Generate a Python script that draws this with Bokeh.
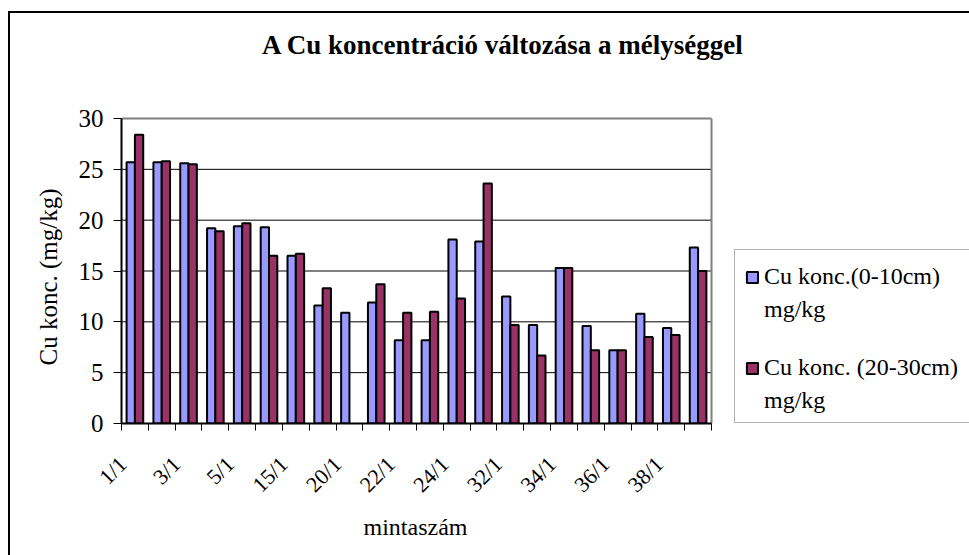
import numpy as np
from bokeh.plotting import figure
from bokeh.models import (FixedTicker, Legend, LegendItem, Range1d, Label, Title, BoxAnnotation,
                          ColumnDataSource)
from bokeh.embed import file_html
from bokeh.resources import INLINE

# ---- data ----
tick_labels = ["1/1", "3/1", "5/1", "15/1", "20/1", "22/1", "24/1", "32/1", "34/1", "36/1", "38/1"]
n_samples = 22
cu_0_10 = [25.7, 25.7, 25.6, 19.2, 19.4, 19.3, 16.5, 11.6, 10.9, 11.9, 8.2,
           8.2, 18.1, 17.9, 12.5, 9.7, 15.3, 9.6, 7.2, 10.8, 9.4, 17.3]
cu_20_30 = [28.4, 25.8, 25.5, 18.9, 19.7, 16.5, 16.7, 13.3, float("nan"), 13.7, 10.9,
            11.0, 12.3, 23.6, 9.7, 6.7, 15.3, 7.2, 7.2, 8.5, 8.7, 15.0]
y_ticks = [0, 5, 10, 15, 20, 25, 30]
series_names = ["Cu konc.(0-10cm)", "Cu konc. (20-30cm)"]
unit_text = "mg/kg"
title_text = "A Cu koncentráció változása  a mélységgel"
x_title = "mintaszám"
y_title = "Cu konc. (mg/kg)"

FONT = "Liberation Serif"
x = np.arange(1, n_samples + 1)

# ---- layout (pixels, figure coordinates) ----
W, H = 961, 544
FL, FB = 111, 410          # plot-area left edge and bottom edge
PLOT_W, PLOT_H = 590, 305  # size of the drawn plot area
x_lo, x_hi = 0.5, n_samples + 0.5
y_lo, y_hi = y_ticks[0], y_ticks[-1]
px_x = PLOT_W / (x_hi - x_lo)
px_y = PLOT_H / (y_hi - y_lo)
frame_w, frame_h = W - FL, FB


def dx(px):   # figure-pixel x -> data x
    return x_lo + (px - FL) / px_x


def dy(py):   # figure-pixel y -> data y
    return y_lo + (FB - py) / px_y


p = figure(width=W, height=H, output_backend="svg", toolbar_location=None,
           x_range=Range1d(x_lo, x_lo + frame_w / px_x),
           y_range=Range1d(y_lo, y_lo + frame_h / px_y),
           min_border_left=FL, min_border_right=0, min_border_top=0, min_border_bottom=H - FB)
p.background_fill_color = "white"
p.border_fill_color = "white"
p.outline_line_color = None
p.title.visible = False
p.styles = {"border-top": "2px solid black", "border-left": "2px solid black",
            "margin-top": "11px", "margin-left": "8px"}

# grid lines and plot-area border
inner = [t for t in y_ticks if y_lo < t < y_hi]
p.segment(x0=[x_lo] * len(inner), x1=[x_hi] * len(inner), y0=inner, y1=inner,
          line_color="black", line_width=1)
p.segment(x0=[x_lo, x_hi], x1=[x_hi, x_hi], y0=[y_hi, y_lo], y1=[y_hi, y_hi],
          line_color="#808080", line_width=2)

w = 0.31
src1 = ColumnDataSource(dict(x=x - w / 2, top=cu_0_10))
src2 = ColumnDataSource(dict(x=x + w / 2, top=cu_20_30))
r1 = p.vbar(x="x", top="top", width=w, source=src1, fill_color="#9999FF", line_color="black", line_width=2)
r2 = p.vbar(x="x", top="top", width=w, source=src2, fill_color="#993366", line_color="black", line_width=2)
r_blank = p.vbar(x=[], top=[], width=w, fill_color=None, line_color=None)

# x axis
label_pos = [round(i - 0.45, 2) for i in range(1, n_samples + 1, 2)]
xa = p.xaxis[0]
xa.bounds = (x_lo, x_hi)
xa.ticker = FixedTicker(ticks=label_pos, minor_ticks=[i + 0.5 for i in range(0, n_samples + 1)])
xa.major_label_overrides = {pos: lab for pos, lab in zip(label_pos, tick_labels)}
xa.major_tick_line_color = None
xa.major_tick_in = 0
xa.major_tick_out = 0
xa.minor_tick_in = 0
xa.minor_tick_out = 7
xa.minor_tick_line_color = "black"
xa.major_label_orientation = np.pi / 4
xa.major_label_standoff = 30
xa.major_label_text_font = FONT
xa.major_label_text_font_size = "22px"
xa.major_label_text_color = "black"
xa.axis_label = None
xa.axis_line_color = "black"
xa.axis_line_width = 2

# y axis
ya = p.yaxis[0]
ya.bounds = (y_lo, y_hi)
ya.ticker = FixedTicker(ticks=y_ticks)
ya.minor_tick_line_color = None
ya.major_tick_in = 0
ya.major_tick_out = 8
ya.major_tick_line_color = "black"
ya.major_label_standoff = 10
ya.major_label_text_font = FONT
ya.major_label_text_font_size = "25px"
ya.major_label_text_color = "black"
ya.axis_label = None
ya.axis_line_color = "black"
ya.axis_line_width = 2

p.xgrid.grid_line_color = None
p.ygrid.grid_line_color = None

# axis titles (placed along the plot area, not the whole frame)
p.add_layout(Title(text=y_title, align="left", offset=58, standoff=28, vertical_align="bottom",
                   text_font=FONT, text_font_size="25px", text_font_style="normal",
                   text_color="black"), "left")
p.add_layout(Title(text=x_title, align="left", offset=242, standoff=10, vertical_align="top",
                   text_font=FONT, text_font_size="24px", text_font_style="normal",
                   text_color="black"), "below")

# chart title
title_cx, title_base = 496, 31   # pixels in figure coordinates
p.add_layout(Label(x=dx(title_cx), y=dy(title_base),
                   text=title_text, text_align="center", text_baseline="alphabetic",
                   text_font=FONT, text_font_size="27px", text_font_style="bold", text_color="black"))

# legend: outer box + two stacked legends
box_l, box_t, box_b = 724, 236, 409
p.add_layout(BoxAnnotation(left=dx(box_l), right=dx(W + 40), top=dy(box_t), bottom=dy(box_b),
                           fill_color=None, line_color="black", line_width=1))
common = dict(label_text_font=FONT, label_text_font_size="24px", label_text_color="black",
              glyph_width=14, glyph_height=14, spacing=6, padding=10, margin=0,
              border_line_color=None, background_fill_alpha=0, label_standoff=5)
leg_x = box_l + 11 - FL
legend1 = Legend(items=[LegendItem(label=series_names[0], renderers=[r1]),
                        LegendItem(label=unit_text, renderers=[r_blank])],
                 location=(leg_x, 100), **common)
legend2 = Legend(items=[LegendItem(label=series_names[1], renderers=[r2]),
                        LegendItem(label=unit_text, renderers=[r_blank])],
                 location=(leg_x, 9), **common)
p.add_layout(legend1, "center")
p.add_layout(legend2, "center")

open("out.html", "w").write(file_html(p, INLINE))
